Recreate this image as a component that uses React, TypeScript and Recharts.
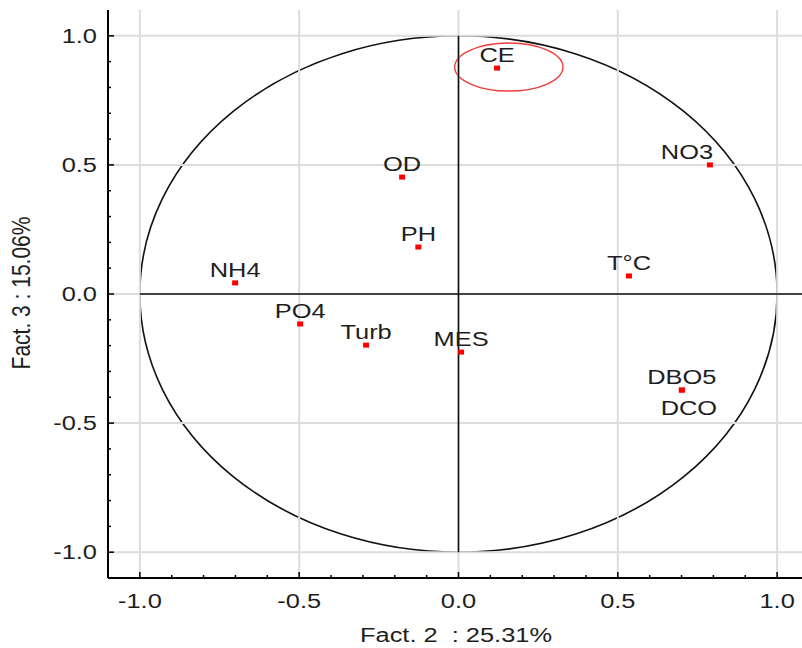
import React from "react";
import {
  ScatterChart,
  Scatter,
  XAxis,
  YAxis,
  ReferenceLine,
  ReferenceArea,
} from "recharts";

// variable loadings on factors 2 and 3
const variables = ["CE", "NO3", "OD", "PH", "NH4", "T°C", "PO4", "Turb", "MES", "DBO5", "DCO"];
const fact2 = [0.121, 0.789, -0.177, -0.126, -0.701, 0.535, -0.497, -0.29, 0.008, 0.701, 0.701];
const fact3 = [0.875, 0.5, 0.453, 0.182, 0.043, 0.07, -0.116, -0.198, -0.225, -0.372, -0.372];

const majorTicks = [-1.0, -0.5, 0.0, 0.5, 1.0];
const axisTicks = [
  -1.0, -0.9, -0.8, -0.7, -0.6, -0.5, -0.4, -0.3, -0.2, -0.1, 0.0,
  0.1, 0.2, 0.3, 0.4, 0.5, 0.6, 0.7, 0.8, 0.9, 1.0,
];

const xTitle = "Fact. 2  : 25.31%";
const yTitle = "Fact. 3 : 15.06%";

const data = variables.map((name, i) => ({ name, x: fact2[i], y: fact3[i] }));

// label nudges (px) for the few names that do not sit centred above their point
const labelNudge: Record<string, [number, number]> = {
  NO3: [-23, 0],
  DCO: [7, 31],
};

const FONT = "'Liberation Sans', Arial, sans-serif";
const TEXT = "#1e1e1e";
const STRETCH = 1.27;

function StretchText({ x, y, anchor = "middle", size = 20, children }: any) {
  return (
    <text
      transform={`translate(${x},${y}) scale(${STRETCH},1)`}
      textAnchor={anchor}
      fontFamily={FONT}
      fontSize={size}
      fill={TEXT}
      style={{ whiteSpace: "pre" }}
    >
      {children}
    </text>
  );
}

const isMajor = (v: number) => majorTicks.some((m) => Math.abs(m - v) < 1e-6);

function BottomTick({ x, y, payload }: any) {
  const major = isMajor(payload.value);
  return (
    <g>
      <line x1={x} x2={x} y1={y} y2={y - (major ? 6 : 3)} stroke="#000" strokeWidth={1.5} />
      {major && <StretchText x={x} y={y + 30}>{payload.value.toFixed(1)}</StretchText>}
    </g>
  );
}

function TopTick({ x, y, payload }: any) {
  const major = isMajor(payload.value);
  return <line x1={x} x2={x} y1={y} y2={y + (major ? 6 : 3)} stroke="#000" strokeWidth={1.5} />;
}

function LeftTick({ x, y, payload }: any) {
  const major = isMajor(payload.value);
  return (
    <g>
      <line x1={x} x2={x + (major ? 6 : 3)} y1={y} y2={y} stroke="#000" strokeWidth={1.5} />
      {major && (
        <StretchText x={x - 11} y={y + 7} anchor="end">
          {payload.value.toFixed(1)}
        </StretchText>
      )}
    </g>
  );
}

function Ellipse({ x, y, width, height, color, sw }: any) {
  return (
    <ellipse
      cx={x + width / 2}
      cy={y + height / 2}
      rx={Math.abs(width / 2)}
      ry={Math.abs(height / 2)}
      fill="none"
      stroke={color}
      strokeWidth={sw}
    />
  );
}

function PointMark({ cx, cy, payload }: any) {
  const [dx, dy] = labelNudge[payload.name] || [0, 0];
  return (
    <g>
      <rect x={cx - 3} y={cy - 2.5} width={6} height={5} fill="#ff0000" />
      <StretchText x={cx + dx} y={cy - 6 + dy}>{payload.name}</StretchText>
    </g>
  );
}

export default function App() {
  return (
    <div
      style={{
        position: "absolute",
        left: 0,
        top: 0,
        width: 802,
        height: 648,
        overflow: "hidden",
        background: "#fff",
      }}
    >
      <ScatterChart width={810} height={648} margin={{ top: 10, right: 1, bottom: 0, left: 0 }}>
        <XAxis
          xAxisId="bottom"
          type="number"
          dataKey="x"
          domain={[-1.1, 1.1]}
          ticks={axisTicks}
          interval={0}
          tickSize={0}
          tickMargin={0}
          height={70}
          tick={<BottomTick />}
          tickLine={false}
          axisLine={{ stroke: "#000", strokeWidth: 2 }}
          allowDataOverflow
        />
        <XAxis
          xAxisId="top"
          orientation="top"
          type="number"
          dataKey="x"
          domain={[-1.1, 1.1]}
          ticks={axisTicks}
          interval={0}
          tickSize={0}
          tickMargin={0}
          height={0}
          tick={<TopTick />}
          tickLine={false}
          axisLine={{ stroke: "#000", strokeWidth: 2 }}
          allowDataOverflow
        />
        <YAxis
          type="number"
          dataKey="y"
          domain={[-1.1, 1.1]}
          ticks={axisTicks}
          interval={0}
          tickSize={0}
          tickMargin={0}
          width={108}
          tick={<LeftTick />}
          tickLine={false}
          axisLine={{ stroke: "#000", strokeWidth: 2 }}
          allowDataOverflow
        />

        {majorTicks.map((v) => (
          <ReferenceLine key={`gx${v}`} xAxisId="bottom" x={v} stroke="#dcdcdc" strokeWidth={2} />
        ))}
        {majorTicks.map((v) => (
          <ReferenceLine key={`gy${v}`} xAxisId="bottom" y={v} stroke="#dcdcdc" strokeWidth={2} />
        ))}

        <ReferenceArea
          xAxisId="bottom"
          x1={-1}
          x2={1}
          y1={-1}
          y2={1}
          shape={(p: any) => <Ellipse {...p} color="#111" sw={1.6} />}
        />
        <ReferenceLine
          xAxisId="bottom"
          segment={[{ x: -1, y: 0 }, { x: 1.1, y: 0 }]}
          stroke="#111"
          strokeWidth={1.6}
        />
        <ReferenceLine
          xAxisId="bottom"
          segment={[{ x: 0, y: -1 }, { x: 0, y: 1 }]}
          stroke="#111"
          strokeWidth={1.6}
        />
        <ReferenceArea
          xAxisId="bottom"
          x1={-0.012}
          x2={0.328}
          y1={0.786}
          y2={0.972}
          shape={(p: any) => <Ellipse {...p} color="#f03c3c" sw={1.4} />}
        />

        <Scatter
          xAxisId="bottom"
          data={data}
          shape={<PointMark />}
          isAnimationActive={false}
        />

        <StretchText x={456} y={642}>{xTitle}</StretchText>
        <text
          transform={`translate(30,293) scale(${STRETCH},1) rotate(-90)`}
          textAnchor="middle"
          fontFamily={FONT}
          fontSize={21}
          fill={TEXT}
        >
          {yTitle}
        </text>
      </ScatterChart>
    </div>
  );
}
